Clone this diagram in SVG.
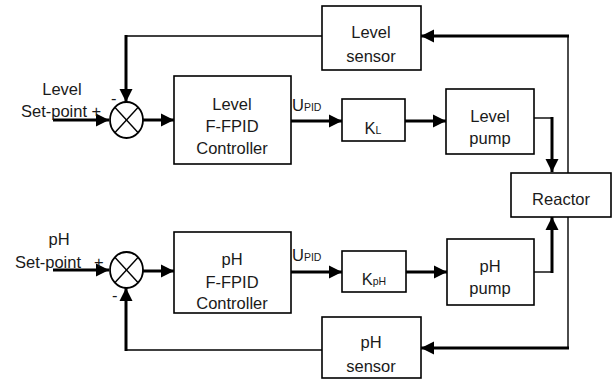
<svg xmlns="http://www.w3.org/2000/svg" width="614" height="380" viewBox="0 0 614 380">
<style>
.box{fill:#fff;stroke:#000;stroke-width:1.6}
.t{font-family:"Liberation Sans",Arial,sans-serif;font-size:16.5px;fill:#1a1a1a;text-anchor:middle}
.tl{font-family:"Liberation Sans",Arial,sans-serif;font-size:16.5px;fill:#1a1a1a}
.sub{font-size:10.5px}
.thick{fill:none;stroke:#000;stroke-width:3}
.thin{fill:none;stroke:#000;stroke-width:1.4}
.sum{fill:#fff;stroke:#000;stroke-width:1.8}
</style>
<defs>
<marker id="ah" markerUnits="userSpaceOnUse" markerWidth="14" markerHeight="14" viewBox="0 0 14 14" refX="13" refY="7" orient="auto">
<path d="M0,0.5 L13,7 L0,13.5 z" fill="#000"/>
</marker>
</defs>
<rect width="614" height="380" fill="#fff"/>

<g id="connectors">
<!-- level loop -->
<line class="thick" x1="53" y1="120" x2="109" y2="120" marker-end="url(#ah)"/>
<line class="thick" x1="143" y1="120" x2="174" y2="120" marker-end="url(#ah)"/>
<line class="thick" x1="291" y1="121" x2="342" y2="121" marker-end="url(#ah)"/>
<line class="thick" x1="405" y1="121" x2="446" y2="121" marker-end="url(#ah)"/>
<polyline class="thin" points="534,118 552,118"/>
<line class="thick" x1="552" y1="117" x2="552" y2="172" marker-end="url(#ah)"/>
<polyline class="thin" points="568,173 568,36"/>
<line class="thick" x1="569" y1="36" x2="421" y2="36" marker-end="url(#ah)"/>
<polyline class="thin" points="322,36 126,36"/>
<line class="thick" x1="126" y1="35" x2="126" y2="102" marker-end="url(#ah)"/>
<!-- pH loop -->
<line class="thick" x1="53" y1="270" x2="109" y2="270" marker-end="url(#ah)"/>
<line class="thick" x1="143" y1="271" x2="174" y2="271" marker-end="url(#ah)"/>
<line class="thick" x1="291" y1="272" x2="342" y2="272" marker-end="url(#ah)"/>
<line class="thick" x1="406" y1="272" x2="447" y2="272" marker-end="url(#ah)"/>
<polyline class="thin" points="534,272 552,272"/>
<line class="thick" x1="552" y1="273" x2="552" y2="217" marker-end="url(#ah)"/>
<polyline class="thin" points="568,217 568,348"/>
<line class="thick" x1="569" y1="348" x2="421" y2="348" marker-end="url(#ah)"/>
<polyline class="thin" points="322,350 126,350"/>
<line class="thick" x1="126" y1="351" x2="126" y2="288" marker-end="url(#ah)"/>
</g>

<g id="level-setpoint">
<text class="t" x="62" y="95">Level</text>
<text class="tl" x="21" y="117">Set-point +</text>
<text class="tl" x="111" y="104" font-size="12">-</text>
</g>
<g id="level-sum">
<ellipse class="sum" cx="126.5" cy="120" rx="16.5" ry="18"/>
<line class="thin" x1="114.8" y1="107.3" x2="138.2" y2="132.7"/>
<line class="thin" x1="138.2" y1="107.3" x2="114.8" y2="132.7"/>
</g>
<g id="level-controller">
<rect class="box" x="174" y="76" width="117" height="88"/>
<text class="t" x="232" y="110">Level</text>
<text class="t" x="232" y="132">F-FPID</text>
<text class="t" x="232" y="154">Controller</text>
</g>
<g id="level-upid">
<text class="tl" x="292" y="111">U<tspan class="sub">PID</tspan></text>
</g>
<g id="kl">
<rect class="box" x="342" y="99" width="63" height="42"/>
<text class="t" x="373" y="134">K<tspan class="sub">L</tspan></text>
</g>
<g id="level-pump">
<rect class="box" x="446" y="89" width="88" height="65"/>
<text class="t" x="490" y="122">Level</text>
<text class="t" x="490" y="144">pump</text>
</g>
<g id="level-sensor">
<rect class="box" x="322" y="6" width="99" height="64"/>
<text class="t" x="371" y="38">Level</text>
<text class="t" x="371" y="62">sensor</text>
</g>
<g id="reactor">
<rect class="box" x="511" y="173" width="100" height="44"/>
<text class="t" x="561" y="205">Reactor</text>
</g>

<g id="ph-setpoint">
<text class="t" x="59" y="245">pH</text>
<text class="tl" x="15" y="268">Set-point</text>
<text class="tl" x="94" y="268">+</text>
<text class="tl" x="112" y="301" font-size="12">-</text>
</g>
<g id="ph-sum">
<ellipse class="sum" cx="126.5" cy="270" rx="16.5" ry="18"/>
<line class="thin" x1="114.8" y1="257.3" x2="138.2" y2="282.7"/>
<line class="thin" x1="138.2" y1="257.3" x2="114.8" y2="282.7"/>
</g>
<g id="ph-controller">
<rect class="box" x="174" y="232" width="117" height="81"/>
<text class="t" x="232" y="265">pH</text>
<text class="t" x="232" y="288">F-FPID</text>
<text class="t" x="232" y="309">Controller</text>
</g>
<g id="ph-upid">
<text class="tl" x="292" y="261">U<tspan class="sub">PID</tspan></text>
</g>
<g id="kph">
<rect class="box" x="342" y="251" width="64" height="41"/>
<text class="t" x="374" y="285">K<tspan class="sub">pH</tspan></text>
</g>
<g id="ph-pump">
<rect class="box" x="447" y="239" width="87" height="66"/>
<text class="t" x="490" y="272">pH</text>
<text class="t" x="490" y="294">pump</text>
</g>
<g id="ph-sensor">
<rect class="box" x="322" y="317" width="99" height="61"/>
<text class="t" x="371" y="348">pH</text>
<text class="t" x="371" y="372">sensor</text>
</g>
</svg>
